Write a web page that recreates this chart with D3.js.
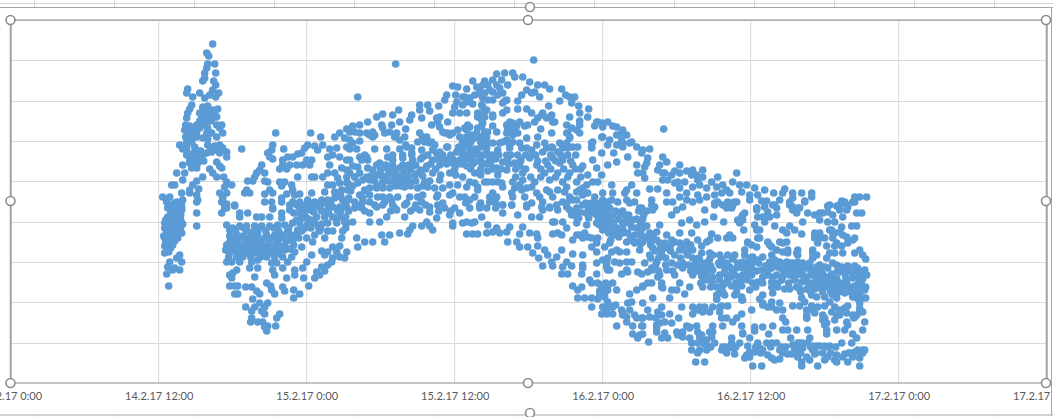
<!DOCTYPE html>
<html><head><meta charset="utf-8">
<script src="https://cdn.jsdelivr.net/npm/d3@7"></script>
<style>html,body{margin:0;padding:0;background:#fff;overflow:hidden}svg{display:block}</style>
</head><body><div id="chart"></div>
<script>
// Readings are flat [sample, level, sample, level ...]; one sample step = 12 h / 148.
const startTime = new Date(2017,1,14,0,0);
const samplesPer12h = 148;
const tickLabelsHours = [0,12,24,36,48,60,72,84];
const levelGridStep = 363/9;
const sheetColumns = [34,114,194,274,354,434,514,594,674,754,834,914,994];

const spikeTop=[202,339,196,330,198,327,204,319,197,319,196,315,194,310,205,310,192,302,194,305,203,302,205,298,202,293,177,294,176,290,182,286,189,290,194,285,199,288,208,290,205,286,181,278,179,274,177,270,192,276,197,277,207,274,202,273,189,270,196,270,176,265,191,265,199,266,206,266,175,258,179,257,194,261,206,258,211,258,189,255,174,253,181,252,209,255,212,250,186,251,196,250,201,250,177,246,182,246,192,245,206,246,197,244,176,241,181,241,197,238,169,238,172,234,176,233,184,236,209,238,186,231,206,233,196,230,201,231,212,235,216,231,216,226,209,230,231,234,182,226,189,226,186,223,179,223,172,218,179,220,187,220,206,221,209,217,181,215,186,215,199,214,202,210,211,215,213,206,166,210,174,210,172,203,192,206,186,202,206,206,216,201,221,198,161,198,164,198,182,198,179,193,188,194,186,188,187,183,171,190,179,190,214,196,209,190,216,190,212,185,152,186,159,186,166,181,172,183,211,181,216,179,224,177,156,183,162,176,171,176,214,175];
const spikeDense=[194,272,199,270,193,265,197,262,202,265,189,262,186,258,190,258,197,255,178,250,183,255,175,246,178,243,186,246,188,232,183,230,190,232,176,228,184,226,193,222,181,220,192,228,200,235,204,237,176,237,200,262,204,270,196,274,193,258];
const riseTop=[265,250,300,250,310,246,329,250,336,254,324,246,334,245,262,238,273,234,297,238,304,237,312,238,294,235,307,233,257,230,261,233,259,226,262,224,287,229,291,230,277,226,282,226,272,223,319,234,326,235,336,236,329,226,322,228,336,223,317,226,301,223,296,223,272,218,279,218,286,218,292,218,299,218,319,218,251,218,249,213,254,210,246,210,269,214,276,214,331,215,336,213,324,210,317,210,312,206,287,206,301,206,304,206,336,206,327,205,244,206,237,202,242,202,254,202,257,201,269,201,274,201,271,197,281,198,317,198,322,198,329,200,336,200,236,193,239,190,234,190,259,193,282,193,262,190,254,189,276,189,284,188,289,189,301,190,314,191,324,191,331,193,337,193,271,185,254,181,261,181,282,181,289,181,297,183,304,181,311,183,317,183,324,185,332,183,337,183,279,178,271,181,296,176,302,176,309,176,322,176,329,176,262,175,289,175,336,176];
const riseDense=[325,186,330,188,335,180,320,180,315,180,310,178,330,172,338,172,300,178,295,178,286,178,293,172,303,171,311,172,318,178,327,172,335,166,283,170,294,167,300,163,318,170,326,164,336,160,286,163,296,165,294,155,300,156,310,155,335,155];
const earlyLow=[156,181,164,180,171,181,186,181,186,170,186,157,157,175,166,173,171,173,157,166,162,166,169,166,154,160,159,160,166,160,172,159,154,155,161,155,167,155,157,150,164,150,171,150,154,145,161,145,167,145,156,140,162,138,157,135,154,130,158,131,169,128,166,125,159,121,171,121,157,116,164,115,169,113,162,113,156,109,158,97];
const earlyDense=[159,178,168,178,160,170,164,170,170,168,155,163,160,163,165,163,170,163,157,157,163,157,170,156,156,152,160,152,165,152,169,152,153,147,159,147,164,147,155,142,159,142,164,142,154,137,160,135];
const dipLow=[212,181,224,178,211,170,216,175,229,170,237,170,229,166,246,166,251,166,259,166,262,174,271,170,279,173,271,165,289,170,299,173,309,176,317,173,329,166,291,165,306,166,314,166,322,166,216,158,219,153,229,157,236,157,244,157,251,157,259,157,267,158,274,158,282,160,289,160,297,159,304,160,311,159,317,160,326,160,334,161,317,152,287,153,242,151,219,147,226,148,232,147,241,147,247,148,256,148,264,148,272,148,281,148,286,147,296,145,304,148,314,145,331,145,302,141,219,141,227,141,236,141,244,141,251,143,259,143,267,142,276,142,282,143,291,136,221,135,229,135,237,135,246,135,254,136,262,136,271,136,279,134,322,136,329,137,219,130,227,130,236,130,244,130,252,130,261,130,269,130,284,131,311,132,317,131,326,131,336,131,301,128,281,126,329,126,322,125,226,126,314,128,216,121,221,121,229,121,241,121,247,123,261,120,266,120,277,121,296,121,321,121,334,125,239,115,247,115,262,113,272,115,284,113,292,115,311,116,317,118,226,113,222,110,219,108,244,106,264,108,276,105,284,108,306,111,314,112,221,105,293,105,304,105,309,108,256,100,219,97,224,97,227,97,235,96,241,96,260,97,272,96,246,92,261,93,283,93,249,89,264,89,274,92,298,97,224,89,227,89,242,84,289,89,283,85,249,80,257,80,235,76,244,76,254,76,241,72,251,72,254,69,269,69,266,65,241,65,240,61,247,61,252,61,257,57,265,57,254,56,256,52];
const dipDense=[222,155,233,155,248,155,263,155,278,155,292,155,300,155,308,155,225,152,236,152,247,152,255,152,268,152,277,152,291,152,309,152,322,152,332,152,222,145,230,145,238,145,246,145,254,145,262,145,270,145,278,145,288,145,216,138,224,138,233,138,241,138,249,138,257,138,265,138,274,138,283,138,215,133,223,133,232,133,240,133,248,133,257,133,265,133,274,133,218,126,232,126,240,126,250,126,256,126,264,126,272,126];
const crestTop=[385,319,347,286,523,323,653,254,486,309,494,310,502,310,504,306,512,306,519,301,527,298,534,298,539,294,551,294,555,288,564,286,559,286,561,280,568,277,578,274,462,302,474,302,482,303,491,303,497,298,442,297,447,296,456,294,466,296,477,298,486,298,516,293,524,291,492,290,482,291,474,290,464,288,436,288,445,288,454,286,511,288,521,290,529,286,472,285,459,285,507,282,494,282,482,283,549,282,434,283,446,281,452,278,409,278,417,278,428,277,471,278,538,277,462,279,419,272,409,273,388,273,442,270,449,270,456,270,474,272,496,273,507,274,516,274,521,270,467,270,492,270,372,269,382,268,401,268,366,266,357,261,349,258,342,257,389,261,399,263,411,265,429,266,437,261,482,266,471,263,531,268,539,266,559,266,569,270,577,266,524,261,542,261,569,262,421,258,429,256,381,258,371,258,499,261,514,257,506,257,482,257,471,257,459,256,447,253,395,254,556,258,587,261,597,261,584,257,602,257,612,253,530,254,497,253,507,250,541,250,569,250,557,250,349,250,362,251,374,250,386,250,409,250,434,250,439,248,456,253,474,251,486,251,516,245,527,246,559,246,592,246,606,248,362,246,384,246,394,246,416,246,449,246,462,244,471,246,502,248,612,240,349,242,339,243,407,241,419,240,482,240,492,241,502,241,534,240,549,240,581,240,597,238,606,238,621,241,395,238,456,240,424,238,526,238];
const crestMiddle=[346,234,339,234,364,234,376,234,389,234,401,235,436,236,452,236,464,234,476,236,487,233,499,235,511,235,521,233,541,236,557,235,567,236,581,235,626,236,632,233,639,234,356,226,377,226,401,230,412,226,426,230,446,231,459,230,471,228,482,228,496,228,507,228,532,231,547,231,557,228,591,230,603,230,617,226,631,230,652,226,351,223,339,223,369,220,382,223,392,225,402,223,422,223,436,223,449,223,464,221,479,223,492,221,504,220,519,225,542,225,552,223,582,223,637,225,656,221,606,221,342,217,357,215,376,215,389,215,402,217,416,217,429,218,442,220,456,217,471,220,486,215,509,217,526,218,537,218,549,220,562,218,572,217,586,215,597,218,626,218,636,220,649,218,669,218,682,213,349,210,339,210,366,208,379,210,392,208,407,210,422,210,439,210,452,206,464,210,477,212,496,213,512,210,534,210,547,210,559,210,577,208,591,208,632,210,654,210,664,212,676,212,352,203,372,201,386,203,399,201,414,201,429,203,459,201,477,201,482,201,502,201,512,203,524,201,539,203,552,201,566,201,587,201,634,205,652,203,664,200,674,201,686,208,342,197,359,195,379,195,394,196,407,195,424,195,439,198,447,198,467,196,491,200,504,195,521,196,536,193,556,196,572,195,601,198,621,198,616,193,639,194,647,194,669,195,682,196,349,188,367,186,381,183,399,186,412,188,427,188,442,190,454,186,464,186,482,190,501,190,514,186,529,186,542,186,559,186,577,190,592,190,602,190,614,190,626,190,656,190,676,190,687,188,344,181,359,181,374,181,396,180,411,181,432,180,459,183,481,183,521,180,532,181,552,181,566,183,584,181,597,181,607,181,624,181,641,183,662,181,682,181,351,175,366,176,384,175,404,175,419,176,444,175,469,175,492,178,501,178,516,176,539,176,556,176,579,175,599,175,629,175,644,176,672,176];
const crestDense=[366,218,375,218,382,218,392,218,398,218,405,218,362,213,370,213,378,213,385,213,394,213,400,213,410,213,360,207,371,207,376,207,384,207,389,207,397,207,404,207,412,207,364,202,378,202,381,202,392,202,395,202,405,202,419,202,366,197,372,197,385,197,390,197,400,197,412,197,417,228,432,228,440,228,452,228,464,228,476,228,488,228,500,228,410,224,427,224,430,224,442,224,455,224,459,224,470,224,485,224,497,224,510,224,420,219,436,219,448,219,452,219,462,219,475,219,480,219,498,219,415,214,425,214,444,214,460,214,470,214,482,214,490,214,505,214,430,208,445,208,470,208,487,208,456,246,466,246,476,246,452,241,460,241,470,241,476,241,448,236,458,236,470,236,452,231,466,231,476,231,515,228,525,228,540,228,550,228,565,228,510,222,527,222,535,222,545,222,560,222,515,214,530,214,540,214,553,214,565,214,570,214,505,206,520,206,530,206,545,206,557,206,570,206,347,216,344,206,356,206,337,200,347,200,340,192,354,192,338,185,352,185];
const crestExtra=[469,293,479,293,489,295,472,298,471,288,487,288,496,283,492,280,477,283,456,281,452,286,444,276,472,276,476,273,482,268,467,266,471,268,474,266,427,261,432,251,437,250,442,250,426,265,454,255,457,258,467,255,472,260,477,251,466,250,461,248,472,246,454,245,452,240,459,243,496,258,502,260,509,261,517,258,496,250,504,251,499,255,527,265,532,270,536,265,541,268,544,261,561,255,556,250,559,245,569,258,566,253,592,256,606,256,611,250,616,248,611,243,599,243,581,236,582,241,591,246,586,261,591,260,612,236,619,240,489,240,496,243,509,240,516,235,486,228,476,240,499,238,522,228,536,235,542,235,552,235,562,236,556,240,344,251,339,251,356,250,359,248,364,248,342,240,354,228,349,226,357,223,379,251,372,255,389,243,396,236,382,228,392,228,401,228,412,246,414,241,421,241,411,233,422,233,429,231,437,236,344,206,359,203,366,195,372,195,354,193,359,188,372,186,379,186,387,186,407,186,417,196,432,195,426,186,439,188,449,186,456,196,474,201,487,201,492,196,464,200,467,193,479,186,486,186,502,186,509,198,511,193,516,195,526,190,539,191,547,193,554,191,566,191,572,188,582,201,576,198,569,193,562,183,584,186,592,183,601,183,616,183,619,180,641,178,656,181,669,186,676,183,647,213,652,210,661,208,669,210,681,208,687,203,657,203,667,201,627,210,634,216];
const fallLow=[352,181,364,178,386,173,394,178,394,166,409,173,419,171,434,175,344,175,359,170,376,166,369,161,342,161,359,161,416,161,426,165,439,168,449,170,456,161,464,161,471,166,469,178,479,181,492,178,492,170,501,178,507,168,521,166,529,166,516,178,531,176,546,178,561,168,572,178,584,176,542,161,552,161,566,160,576,158,586,168,596,166,609,170,622,163,631,175,642,173,661,168,666,173,679,163,402,157,411,157,419,157,442,157,452,160,461,160,477,158,486,155,499,156,512,156,589,158,599,158,606,155,621,156,636,157,649,158,671,160,686,158,399,153,422,153,442,160,379,148,389,150,397,149,456,149,462,149,467,149,476,150,482,151,489,150,496,151,509,149,519,150,526,149,542,149,551,148,566,148,577,146,592,153,602,148,612,150,624,148,639,150,646,151,656,148,669,150,681,150,346,145,354,141,362,141,371,148,374,141,497,141,506,141,527,145,562,143,572,145,587,145,616,141,626,141,632,141,646,143,654,140,664,141,676,141,687,143,347,136,509,136,517,136,527,137,534,133,551,133,581,136,594,136,642,135,656,135,669,133,682,133,522,130,537,128,546,126,562,129,572,128,586,131,601,131,609,131,616,131,629,133,639,128,651,128,664,128,677,128,528,125,541,121,556,121,572,118,586,120,596,120,609,120,621,121,634,120,646,121,661,120,672,120,686,120,532,117,542,117,552,116,561,117,572,115,599,113,616,113,642,113,656,113,672,115,551,109,557,109,571,109,586,109,611,109,617,111,631,109,649,108,664,108,682,108,579,103,602,100,641,100,651,100,669,100,562,97,571,96,581,100,592,95,632,96,652,95,679,96,567,93,589,92,606,93,619,89,626,93,666,93,567,85,574,85,581,85,587,84,594,86,642,85,659,85,674,89,597,81,621,81,632,80,581,76,592,76,602,76,611,73,637,73,651,76,671,76,682,76,687,73,591,69,596,69,602,69,612,68,624,68,647,71,659,69,682,69,632,65,616,61,645,65,668,65,606,57,622,57,631,57,649,60,661,60,676,57,686,57,646,55,622,49,632,49,646,51,666,51,627,45,651,45,657,45,672,46,638,41,681,40,687,40,681,33,687,30,685,21];
const fallDense=[588,172,596,172,605,172,612,172,628,172,636,172,590,168,602,168,614,168,618,168,633,168,588,164,600,164,608,164,616,164,626,164,632,164,586,160,594,160,603,160,612,160,618,160,630,160,594,155,600,155,612,155,626,155,632,155,598,150,606,150,617,150,630,150,608,146,620,146,634,146,642,146,600,143,620,143,640,143,630,139,640,139,650,139,640,138,650,137,660,138,672,138,680,138,645,132,660,132,675,132,640,125,648,125,655,125,670,125,682,125,688,125,645,118,655,118,667,118,678,118,684,118,648,112,662,112,680,112,686,112,575,180,590,180,566,175,578,175,590,175,594,175,565,170,575,170,583,170,592,170,568,165,578,165,590,165,350,178,372,178,382,178,405,178,415,178,427,178,354,172,380,172,400,172,428,172,440,172,455,180,470,180,485,180,459,175,476,175,485,175,590,98,594,92,597,97,589,88,595,100,598,78,595,72,605,78];
const fallExtra=[532,173,539,175,547,173,556,180,559,173,569,171,577,170,581,180,566,166,544,161,547,150,556,155,569,148,574,150,581,145,586,140,599,140,606,133,624,140,631,146,639,143,649,140,651,133,661,143,669,140,676,136,616,121,597,113,592,123,596,116,597,125,604,121,627,111,637,111,641,115,647,106,651,96,661,93,632,97,637,100,587,100,594,90,597,93,592,96,617,80,612,70,616,66,626,65,631,65,639,66,651,68,646,58,654,61,654,50,667,48,672,51,679,55,679,45,687,51,679,56,632,57,629,48,619,73,599,76];
const tailTop=[726,210,692,213,707,206,722,201,701,201,692,206,729,198,736,198,689,198,712,198,744,195,754,193,774,194,706,196,696,195,731,191,716,193,763,190,782,190,791,190,801,190,801,186,772,190,739,188,747,188,704,188,711,190,719,190,726,181,696,186,817,177,826,177,831,182,844,186,849,186,856,186,844,181,837,176,782,185,794,182,779,181,769,183,751,182,756,182,762,178,739,183,704,180,712,178,721,180,689,183,746,175,787,175,781,177,827,177];
const tailLow=[694,173,704,178,716,175,724,181,731,166,734,170,746,173,754,176,764,178,757,171,766,168,747,166,754,161,779,178,786,170,797,170,794,181,809,170,817,171,829,178,834,181,819,178,836,173,846,170,851,170,832,166,809,163,817,161,824,161,694,161,703,166,713,161,727,163,732,163,733,153,744,158,746,153,764,157,749,153,779,157,784,153,772,153,792,161,776,150,791,149,804,150,809,150,821,153,831,156,824,150,841,157,846,157,804,145,807,140,814,145,832,148,822,145,701,149,719,148,696,141,707,145,716,145,722,145,749,145,757,141,842,143,837,140,816,137,824,137,831,137,691,137,737,141,734,133,741,138,746,136,761,136,769,141,776,141,772,131,777,130,787,133,787,128,802,133,806,128,802,125,816,125,819,130,824,130,832,130,844,130,849,133,852,128,855,124,822,120,761,128,691,130,699,130,709,128,717,128,724,128,734,128,742,126,752,126,702,128,689,123,699,124,711,124,722,124,732,121,742,121,759,121,769,121,776,121,787,121,806,116,814,116,831,116,837,117,844,117,694,118,692,113,702,113,719,116,726,115,732,115,741,115,751,113,761,115,769,115,777,115,787,115,796,115,804,111,812,109,821,109,831,111,841,111,852,111,856,108,691,107,696,107,709,108,716,108,724,108,732,108,741,108,757,108,766,108,779,108,786,108,792,108,801,108,811,106,826,105,842,105,852,104,696,103,709,103,717,103,731,103,737,103,747,101,761,101,771,103,784,103,791,101,797,101,806,100,814,100,821,100,836,101,844,97,851,98,692,96,706,96,712,97,721,97,731,97,761,96,767,96,774,94,779,94,789,94,796,94,804,94,811,94,817,96,824,94,831,94,836,96,847,94,854,93,739,93,706,88,714,88,724,88,731,86,752,88,762,90,801,88,806,86,814,86,822,88,826,85,834,90,842,86,849,90,855,85,791,85,706,84,749,84,769,80,761,81,752,78,794,81,801,77,807,76,814,77,819,81,837,77,849,80,782,77,789,77,711,77,717,77,702,76,694,76,689,76,757,76,741,73,766,73,772,73,802,73,821,71,829,73,849,71,709,71,699,71,731,69,796,68,812,68,826,68,834,75,844,66,852,71,711,65,716,65,726,65,722,61,772,65,796,65,804,70,812,63,824,63,836,61,843,65,854,61,775,61,702,57,712,57,731,57,744,56,752,56,762,57,814,58,816,53,834,53,837,58,852,53,702,51,772,53,777,53,786,53,797,53,826,53,744,52,732,49,739,45,758,49,780,45,799,45,842,49,846,45,816,49,701,46,689,46,721,45,694,39,704,40,721,40,729,40,737,37,747,40,756,40,766,40,782,38,789,40,797,40,806,37,814,37,819,37,831,40,841,40,771,36,689,33,696,33,711,33,717,35,724,29,736,28,744,31,752,33,769,33,777,29,784,33,792,35,802,33,812,30,826,28,834,29,844,31,854,33,847,33,716,30,694,21,734,25,761,25,769,24,787,26,791,21,799,23,814,23,826,21,837,21,842,26,849,25,742,17,751,17,791,17,807,17,849,17];
const tailDense=[695,120,708,120,716,120,727,120,738,120,748,120,764,120,780,120,792,120,700,117,714,117,735,117,755,117,765,117,772,117,782,117,799,117,688,112,697,112,714,112,722,112,737,112,746,112,757,112,773,112,782,112,791,112,800,112,808,112,827,112,836,112,845,112,694,106,702,106,720,106,728,106,736,106,752,106,762,106,772,106,783,106,795,106,805,106,816,106,820,106,835,106,848,106,690,100,702,100,715,100,725,100,742,100,752,100,767,100,778,100,802,100,818,100,826,100,830,100,848,100,700,96,726,96,745,96,786,96,800,96,808,96,826,96,840,96,855,96,712,91,726,91,790,91,800,91,812,91,820,91,828,91,840,91,846,91,700,36,715,36,725,36,745,36,760,36,775,36,790,36,800,36,825,36,750,30,772,30,790,30,805,30,820,30,838,30,852,30];
const tailExtra=[804,168,812,170,822,168,829,173,836,178,842,181,789,175,782,173,766,175,752,166,759,166,746,175,732,168,729,160,722,178,717,181,721,175,707,181,804,147,809,145,819,153,822,150,829,151,836,146,844,145,826,140,737,140,772,140,766,133,777,133,747,145,699,143,759,138,786,130,802,130,689,116,697,113,709,118,716,118,739,125,747,123,764,123,782,120,792,118,799,120,809,118,817,115,826,118,831,113,847,115,854,113,809,101,836,96,842,95,849,96,846,85,852,85,842,90,732,83,706,84,709,90,731,83,692,71,709,76,752,80,761,76,796,73,796,65,824,76,829,68,836,70,842,68,849,75,846,68,814,65,816,60,691,48,699,51,696,43,692,43,732,50,761,40,784,36,787,40,792,40,802,37,809,37,816,36,739,31,739,26,749,35,757,28,764,23,781,29,787,31,796,26,804,29,817,26,832,26,839,30,849,30,852,33,824,23,722,35,712,36,699,36];

const blocks = [spikeTop,spikeDense,riseTop,riseDense,earlyLow,earlyDense,dipLow,dipDense,crestTop,crestMiddle,crestDense,crestExtra,fallLow,fallDense,fallExtra,tailTop,tailLow,tailDense,tailExtra];
const readings = blocks.flatMap(b => d3.range(0,b.length,2).map(i => ({sample:b[i], level:b[i+1]})));

const W=1053,H=417;
const plot={left:10.7,right:1046.7,top:20,bottom:383};
const x=d3.scaleTime().domain([startTime,d3.timeHour.offset(startTime,84)]).range([plot.left,plot.right]);
const y=d3.scaleLinear().domain([0,363]).range([plot.bottom,plot.top]);
const timeOf=s=>new Date(+startTime+s*(12*3600*1000)/samplesPer12h);

const svg=d3.select("#chart").append("svg").attr("width",W).attr("height",H);

// spreadsheet behind the chart
const sheet=svg.append("g");
sheet.append("rect").attr("width",W).attr("height",H).attr("fill","#fff");
sheet.selectAll("line.top").data(sheetColumns).join("line").attr("x1",d=>d+.5).attr("x2",d=>d+.5).attr("y1",0).attr("y2",7).attr("stroke","#d4d4d4");
sheet.selectAll("line.bot").data(sheetColumns).join("line").attr("x1",d=>d+.5).attr("x2",d=>d+.5).attr("y1",415).attr("y2",417).attr("stroke","#d4d4d4");
sheet.append("line").attr("x1",0).attr("x2",W).attr("y1",3.5).attr("y2",3.5).attr("stroke","#d4d4d4");
sheet.append("line").attr("x1",0).attr("x2",W).attr("y1",7.5).attr("y2",7.5).attr("stroke","#a6a6a6");
sheet.append("line").attr("x1",0).attr("x2",W).attr("y1",415).attr("y2",415).attr("stroke","#a6a6a6");
sheet.append("line").attr("x1",1051.5).attr("x2",1051.5).attr("y1",7).attr("y2",415).attr("stroke","#a6a6a6");

// gridlines
const grid=svg.append("g").attr("stroke","#d9d9d9").attr("stroke-width",1);
grid.selectAll("line.v").data(tickLabelsHours).join("line")
 .attr("x1",h=>x(d3.timeHour.offset(startTime,h))).attr("x2",h=>x(d3.timeHour.offset(startTime,h)))
 .attr("y1",plot.top).attr("y2",plot.bottom);
grid.selectAll("line.h").data(d3.range(1,10)).join("line").attr("class","h")
 .attr("x1",plot.left).attr("x2",plot.right)
 .attr("y1",i=>Math.round(y(i*levelGridStep))+.5).attr("y2",i=>Math.round(y(i*levelGridStep))+.5);

// x axis labels
const fmt=d3.timeFormat("%-d.%-m.%y %-H:%M");
const axis=d3.axisBottom(x).tickValues(tickLabelsHours.map(h=>d3.timeHour.offset(startTime,h))).tickFormat(fmt).tickSize(0).tickPadding(9);
const ax=svg.append("g").attr("transform",`translate(0,${plot.bottom})`).call(axis);
ax.select(".domain").remove();
ax.selectAll("text").attr("font-family","Lato, 'Open Sans', sans-serif").attr("font-size",11).attr("fill","#595959");

// points
svg.append("g").attr("fill","#5b9bd5").selectAll("circle").data(readings).join("circle")
 .attr("cx",d=>x(timeOf(d.sample))).attr("cy",d=>y(d.level)).attr("r",3.8);

// selection frame + handles
const frame=svg.append("g").attr("fill","none");
frame.append("rect").attr("x",plot.left).attr("y",plot.top).attr("width",plot.right-plot.left).attr("height",plot.bottom-plot.top).attr("stroke","#8c8c8c");
frame.append("line").attr("x1",plot.left).attr("x2",plot.left).attr("y1",plot.top).attr("y2",plot.bottom).attr("stroke","#a6a6a6").attr("stroke-width",2);
frame.append("line").attr("x1",plot.right).attr("x2",plot.right).attr("y1",plot.top).attr("y2",plot.bottom).attr("stroke","#a6a6a6").attr("stroke-width",2);
const handles=[[10.5,20],[10.5,201],[10.5,383],[528,20],[530,7],[528,383],[530,413],[1046,20],[1046,201],[1046,383]];
svg.append("g").selectAll("circle").data(handles).join("circle")
 .attr("cx",d=>d[0]).attr("cy",d=>d[1]).attr("r",4.5).attr("fill","#fff").attr("stroke","#8c8c8c").attr("stroke-width",1.6);
</script></body></html>
